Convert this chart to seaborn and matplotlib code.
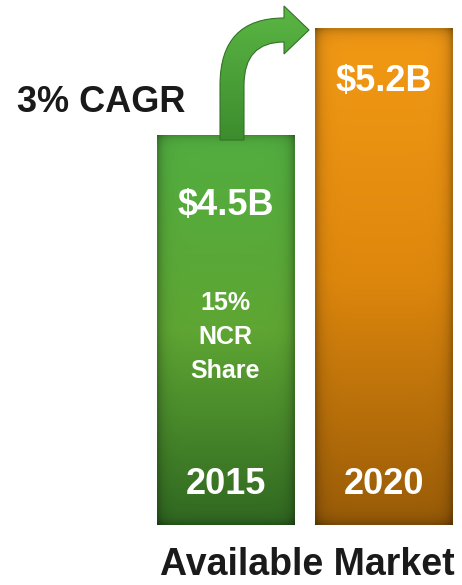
import numpy as np
import pandas as pd
import seaborn as sns
import matplotlib.pyplot as plt
from matplotlib.colors import LinearSegmentedColormap
from matplotlib.path import Path
from matplotlib.patches import PathPatch
from matplotlib.transforms import Affine2D

# chart data
years = ['2015', '2020']
market = [4.5, 5.2]
labels = ['$4.5B', '$5.2B']
share_note = '15%\nNCR\nShare'
cagr_note = '3% CAGR'
title = 'Available Market'

W, H = 462, 585
DPI = 100

# gradient colours, top -> middle -> bottom
green_cols = [(0.32, 0.68, 0.25), (0.37, 0.65, 0.20), (0.19, 0.41, 0.13)]
orange_cols = [(0.95, 0.60, 0.08), (0.87, 0.53, 0.05), (0.60, 0.36, 0.03)]

sns.set_theme(style='white')
plt.rcParams['font.family'] = ['Liberation Sans', 'DejaVu Sans']

fig = plt.figure(figsize=(W / DPI, H / DPI), dpi=DPI)
ax = fig.add_axes([0, 60 / H, 1, 525 / H])

df = pd.DataFrame({'year': years, 'market': market})
sns.barplot(data=df, x='year', y='market', ax=ax, width=0.87,
            color='white', saturation=1, edgecolor='none')

# truncated value axis, as in the original graphic
base = 1.94
ax.set_ylim(base, 5.384)
ax.set_xlim(-1.423, 1.492)
ax.axis('off')


def gradient_img(cols, nx=60, ny=200):
    cmap = LinearSegmentedColormap.from_list('g', cols)
    t = np.linspace(0, 1, ny)[:, None]
    rgb = cmap(np.repeat(t, nx, axis=1))[..., :3]
    # soft darkening at the edges (inner shadow look)
    xs = np.linspace(0, 1, nx)
    ys = np.linspace(0, 1, ny)
    ex = np.minimum(xs, 1 - xs)[None, :]
    ey = np.minimum(ys, 1 - ys)[:, None]
    shade = 1 - 0.25 * np.exp(-ex / 0.04) - 0.2 * np.exp(-ey / 0.012)
    return np.clip(rgb * shade[..., None], 0, 1)


for bar, cols in zip(ax.patches, [green_cols, orange_cols]):
    x0, w, h = bar.get_x(), bar.get_width(), bar.get_height()
    im = ax.imshow(gradient_img(cols), extent=[x0, x0 + w, base, h],
                   aspect='auto', origin='upper', zorder=2)
    im.set_clip_path(bar)

# curved arrow from the 2015 bar towards the 2020 bar (pixel coords, y down)
pix = Affine2D().scale(1, -1).translate(0, H)
verts = [(220, 140), (220, 85), (220, 18), (284, 18), (284, 6), (309, 30),
         (284, 54), (284, 42), (244, 42), (244, 85), (244, 140), (220, 140)]
codes = [Path.MOVETO, Path.LINETO, Path.CURVE3, Path.CURVE3, Path.LINETO,
         Path.LINETO, Path.LINETO, Path.LINETO, Path.CURVE3, Path.CURVE3,
         Path.LINETO, Path.CLOSEPOLY]
arrow = PathPatch(Path(verts, codes), transform=pix, facecolor='none',
                  edgecolor=(0.2, 0.45, 0.15), lw=0.8, zorder=1)
fig.patches.append(arrow)
acmap = LinearSegmentedColormap.from_list('a', [(0.36, 0.72, 0.27), (0.24, 0.55, 0.18)])
aim = fig.figimage(acmap(np.linspace(0, 1, 140)[:, None].repeat(100, axis=1)),
                   xo=215, yo=H - 140, origin='upper', zorder=0)
aim.set_clip_path(arrow)

# text
white = dict(color='white', fontweight='bold', ha='center', va='center')
for i, lab in enumerate(labels):
    ty = [205, 82][i]
    fig.text((225.5 if i == 0 else 384) / W, 1 - ty / H, lab, fontsize=26, **white)
    fig.text((225.5 if i == 0 else 384) / W, 1 - 484 / H, years[i], fontsize=26, **white)
fig.text(225 / W, 1 - 337 / H, share_note, fontsize=18, linespacing=1.5, **white)
fig.text(17 / W, 1 - 103 / H, cagr_note, fontsize=26, fontweight='bold',
         color='#1a1a1a', ha='left', va='center')
fig.text(307 / W, 1 - 565 / H, title, fontsize=27, fontweight='bold',
         color='#1a1a1a', ha='center', va='center')

fig.savefig('out.png', dpi=DPI)
